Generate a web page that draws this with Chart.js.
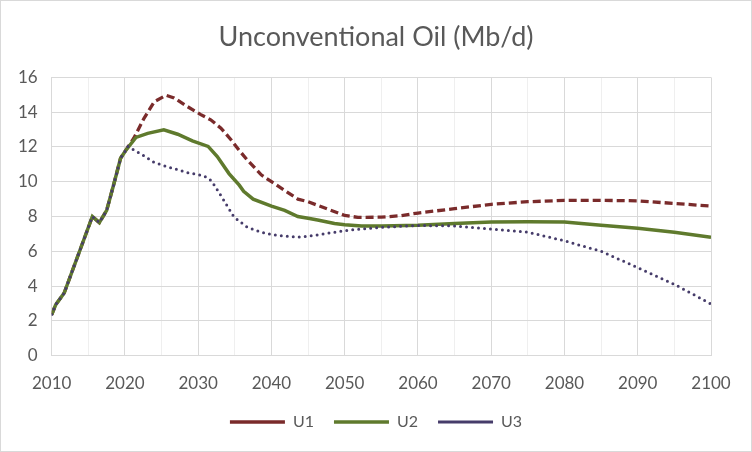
<!DOCTYPE html>
<html>
<head>
<meta charset="utf-8">
<script src="https://cdn.jsdelivr.net/npm/chart.js@4"></script>
<style>
  html, body { margin: 0; padding: 0; background: #fff; }
  #wrap { width: 752px; height: 452px; box-sizing: border-box; border: 1px solid #d9d9d9; position: relative; }
  canvas { display: block; }
</style>
</head>
<body>
<div id="wrap"><canvas id="c" width="750" height="450"></canvas></div>
<script>
// Shared history (all three scenarios coincide up to ~2020)
const baseYears  = [2010, 2010.55, 2011.7, 2015.55, 2016.5, 2017.5, 2018.5, 2019.4, 2020.1];
const baseValues = [2.36, 2.93, 3.6, 8.0, 7.65, 8.35, 9.9, 11.35, 11.8];

const u1Years  = [2021.2, 2022.6, 2024.0, 2025.6, 2026.7, 2028.5, 2030.35, 2031.7, 2033.1, 2034.5, 2035.6, 2036.7, 2038.6, 2040, 2041.8, 2043.6, 2045, 2047.2, 2050, 2051.8, 2055, 2057.7, 2060, 2065, 2070, 2075, 2080, 2085, 2090, 2095, 2100];
const u1Values = [12.5, 13.65, 14.6, 14.97, 14.82, 14.33, 13.86, 13.56, 13.08, 12.4, 11.8, 11.25, 10.4, 10.0, 9.5, 9.0, 8.85, 8.5, 8.06, 7.95, 7.96, 8.05, 8.2, 8.45, 8.7, 8.85, 8.93, 8.93, 8.9, 8.75, 8.6];

const u2Years  = [2021.5, 2023.1, 2025.3, 2027.2, 2029.2, 2031.35, 2032.6, 2034.2, 2035.6, 2036.2, 2037.5, 2040, 2041.8, 2043.6, 2045, 2046.3, 2048.6, 2050, 2052.3, 2055, 2060, 2065, 2070, 2075, 2080, 2085, 2090, 2095, 2100];
const u2Values = [12.55, 12.78, 12.98, 12.73, 12.35, 12.03, 11.45, 10.47, 9.8, 9.45, 9.0, 8.6, 8.35, 8.0, 7.9, 7.8, 7.6, 7.53, 7.45, 7.45, 7.5, 7.6, 7.68, 7.7, 7.68, 7.5, 7.33, 7.1, 6.8];

const u3Years  = [2020.4, 2021.2, 2022.4, 2024.0, 2026.3, 2028.5, 2030.8, 2031.7, 2032.2, 2033.1, 2034.9, 2036.7, 2038.6, 2040, 2042.2, 2043.6, 2045, 2047.2, 2050, 2052.3, 2055, 2060, 2065, 2070, 2075, 2080, 2085, 2090, 2095, 2100];
const u3Values = [12.03, 11.83, 11.54, 11.1, 10.8, 10.53, 10.34, 10.09, 9.8, 9.2, 7.96, 7.38, 7.1, 6.96, 6.86, 6.82, 6.86, 7.0, 7.19, 7.28, 7.38, 7.48, 7.46, 7.28, 7.1, 6.6, 6.0, 5.06, 4.1, 2.97];

const seriesNames = ['U1', 'U2', 'U3'];
const yTicks = [0, 2, 4, 6, 8, 10, 12, 14, 16];
const xMin = 2010, xMax = 2100;

function pts(years, values) {
  return years.map((y, i) => ({ x: y, y: values[i] }));
}
const series = [
  pts(baseYears.concat(u1Years), baseValues.concat(u1Values)),
  pts(baseYears.concat(u2Years), baseValues.concat(u2Values)),
  pts(baseYears.concat(u3Years), baseValues.concat(u3Values))
];

const txt = '#595959';
const FONT = 'Lato, "Open Sans", sans-serif';

new Chart(document.getElementById('c'), {
  type: 'line',
  data: {
    datasets: [
      { label: seriesNames[0], data: series[0], borderColor: '#7A2B2B', backgroundColor: '#7A2B2B',
        borderWidth: 3.3, borderDash: [8, 4], pointRadius: 0, tension: 0, order: 3 },
      { label: seriesNames[1], data: series[1], borderColor: '#5F7A2D', backgroundColor: '#5F7A2D',
        borderWidth: 3.5, pointRadius: 0, tension: 0, order: 2 },
      { label: seriesNames[2], data: series[2], borderColor: '#463C6A', backgroundColor: '#463C6A',
        borderWidth: 3, borderDash: [0, 6], borderCapStyle: 'round', pointRadius: 0, tension: 0, order: 1 }
    ]
  },
  options: {
    responsive: false,
    animation: false,
    layout: { padding: { left: 3, right: 3, top: 0, bottom: 11 } },
    plugins: {
      title: {
        display: true, text: 'Unconventional Oil (Mb/d)', color: txt,
        font: { family: FONT, size: 27, weight: 'normal' },
        padding: { top: 20, bottom: 24 }
      },
      legend: {
        position: 'bottom',
        labels: {
          color: txt, font: { family: FONT, size: 16 },
          usePointStyle: true, pointStyle: 'line', pointStyleWidth: 55, padding: 20,
          sort: (a, b) => a.datasetIndex - b.datasetIndex
        }
      },
      tooltip: { enabled: false }
    },
    scales: {
      x: {
        type: 'linear', min: xMin, max: xMax,
        afterFit: s => { s.height -= 18; },
        ticks: {
          stepSize: 5, color: txt, font: { family: FONT, size: 17 }, padding: 18,
          autoSkip: false, maxRotation: 0,
          callback: v => (v % 10 === 0 ? String(v) : '')
        },
        grid: {
          drawTicks: false,
          color: ctx => (ctx.tick && ctx.tick.value % 10 === 0 ? '#d9d9d9' : '#efefef'),
          lineWidth: 1
        },
        border: { color: '#d9d9d9' }
      },
      y: {
        min: 0, max: 16,
        afterBuildTicks: ax => { ax.ticks = yTicks.map(v => ({ value: v })); },
        ticks: { color: txt, font: { family: FONT, size: 17 }, padding: 14 },
        grid: { drawTicks: false, color: '#d9d9d9' },
        border: { color: '#d9d9d9' }
      },
      yRight: {
        position: 'right', min: 0, max: 16,
        afterFit: s => { s.width = 37; },
        ticks: { display: false },
        grid: { drawOnChartArea: false, drawTicks: false },
        border: { display: false }
      }
    }
  }
});
</script>
</body>
</html>
